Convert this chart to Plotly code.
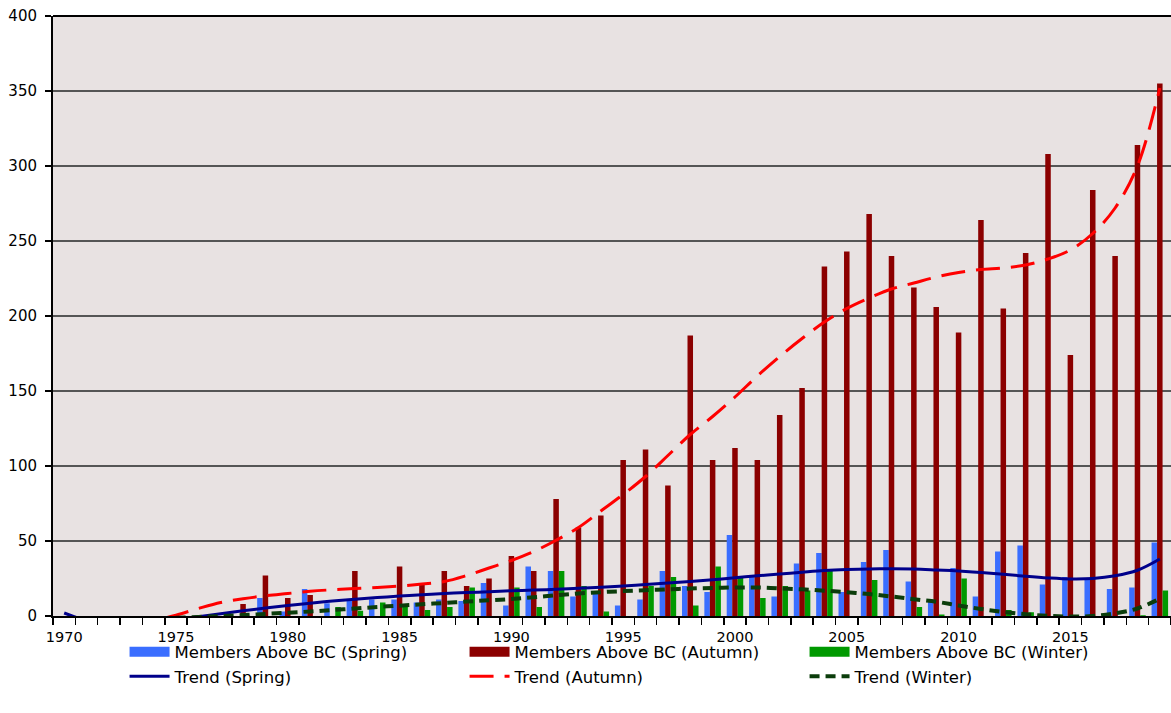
import plotly.graph_objects as go

years = [1970, 1971, 1972, 1973, 1974, 1975, 1976, 1977, 1978, 1979,
         1980, 1981, 1982, 1983, 1984, 1985, 1986, 1987, 1988, 1989,
         1990, 1991, 1992, 1993, 1994, 1995, 1996, 1997, 1998, 1999,
         2000, 2001, 2002, 2003, 2004, 2005, 2006, 2007, 2008, 2009,
         2010, 2011, 2012, 2013, 2014, 2015, 2016, 2017, 2018, 2019]

spring = [0, 0, 0, 0, 0, 0, 0, 0, 0, 12,
          3, 18, 8.5, 11, 11, 11, 9, 11, 10, 22,
          7, 33, 30, 13, 16, 7, 11, 30, 20, 16,
          54, 26, 13, 35, 42, 16, 36, 44, 23, 10,
          32, 13, 43, 47, 21, 26, 24, 18, 19, 49]

autumn = [0, 0, 0, 0, 0, 0, 0, 0, 8, 27,
          12, 14, 0, 30, 0, 33, 22, 30, 20, 25,
          40, 30, 78, 59, 67, 104, 111, 87, 187, 104,
          112, 104, 134, 152, 233, 243, 268, 240, 219, 206,
          189, 264, 205, 242, 308, 174, 284, 240, 314, 355]

winter = [0, 0, 0, 0, 0, 0, 0, 0, 0, 0,
          0, 0, 6, 3.5, 9, 6, 4, 6, 19, 0,
          19, 6, 30, 20, 3, 0, 20, 26, 7, 33,
          25.5, 12, 20, 17, 30, 0, 24, 0, 6, 1,
          25, 0, 4, 2.5, 0, 0, 0, 0, 0.5, 17]

trend_spring = [2, -3, -5, -5, -4, -2.5, -0.5, 1.5, 3.5, 5.3,
                7, 8.5, 10, 11.2, 12.3, 13.3, 14.2, 15, 15.6, 16.2,
                16.8, 17.3, 17.8, 18.5, 19.2, 20, 21, 22, 23, 24.2,
                25.5, 26.8, 28, 29.2, 30.3, 31, 31.4, 31.5, 31.3, 30.7,
                30, 29, 27.8, 26.5, 25.4, 24.7, 25, 26.8, 30.5, 38]

trend_autumn = [-20, -15, -10, -6, -3, 0.5, 5, 9, 11.5, 13.5,
                15, 16.5, 17.5, 18.3, 19, 20, 21.3, 23, 27, 32,
                37, 43, 50.5, 59, 70, 81, 93, 107, 121, 133,
                146, 160, 173, 185, 196, 205, 212, 218, 222, 226,
                229, 231, 232, 234, 238, 244, 255, 272, 300, 352]

trend_winter = [-8, -6, -4.5, -3, -2, -1.2, -0.6, -0.1, 0.6, 1.4,
                2.2, 3, 4, 5, 6, 6.9, 7.8, 8.7, 9.6, 10.5,
                11.3, 12.5, 13.8, 15, 15.9, 16.6, 17.2, 17.8, 18.3, 18.7,
                19, 19, 18.4, 17.8, 16.9, 15.9, 14.6, 13, 11.2, 9.5,
                7, 4.7, 2.7, 1.2, 0.1, -0.4, 0, 1.8, 5, 11.5]

label_years = [1970, 1975, 1980, 1985, 1990, 1995, 2000, 2005, 2010, 2015]
y_ticks = [0, 50, 100, 150, 200, 250, 300, 350, 400]

FONT = "DejaVu Sans"
C_SPRING, C_AUTUMN, C_WINTER = "#3A6EFF", "#8B0000", "#009900"

fig = go.Figure()
# bars (legend shown through wide-swatch proxies below)
fig.add_bar(x=years, y=spring, name="Members Above BC (Spring)", marker_color=C_SPRING,
            marker_line_width=0, showlegend=False)
fig.add_bar(x=years, y=autumn, name="Members Above BC (Autumn)", marker_color=C_AUTUMN,
            marker_line_width=0, showlegend=False)
fig.add_bar(x=years, y=winter, name="Members Above BC (Winter)", marker_color=C_WINTER,
            marker_line_width=0, showlegend=False)
# legend proxies: wide rectangular swatches like the original
for nm, c in [("Members Above BC (Spring)", C_SPRING),
              ("Members Above BC (Autumn)", C_AUTUMN),
              ("Members Above BC (Winter)", C_WINTER)]:
    fig.add_scatter(x=[None], y=[None], mode="lines", name=nm, line=dict(color=c, width=10))

fig.add_scatter(x=years, y=trend_spring, mode="lines", name="Trend (Spring)",
                line=dict(color="#00008B", width=3, shape="spline"))
fig.add_scatter(x=years, y=trend_autumn, mode="lines", name="Trend (Autumn)",
                line=dict(color="#FF0000", width=3, dash="24px,11px", shape="spline"))
fig.add_scatter(x=years, y=trend_winter, mode="lines", name="Trend (Winter)",
                line=dict(color="#0B3D0B", width=4, dash="10px,6px", shape="spline"))

fig.update_layout(
    width=1171, height=713,
    margin=dict(l=53, r=0, t=16, b=97, autoexpand=False),
    paper_bgcolor="white",
    plot_bgcolor="#E8E2E2",
    barmode="group",
    bargap=0.26,
    bargroupgap=0,
    font=dict(family=FONT, size=14, color="black"),
    showlegend=True,
    legend=dict(
        orientation="h",
        x=0.064, xanchor="left",
        y=-0.031, yanchor="top",
        font=dict(family=FONT, size=16.5),
        entrywidth=285,
        itemwidth=40,
        tracegroupgap=0,
        bgcolor="rgba(0,0,0,0)",
    ),
    hovermode=False,
)

fig.update_xaxes(
    range=[1969.5, 2019.5],
    tickvals=label_years,
    ticktext=[str(v) for v in label_years],
    ticks="",
    ticklabelstandoff=7,
    ticklabeloverflow="allow",
    showgrid=False,
    showline=True, linecolor="black", linewidth=2,
    tickfont=dict(family=FONT, size=14.5),
    minor=dict(ticks="outside", tick0=1969.5, dtick=1, ticklen=7, tickcolor="black", tickwidth=1.5, showgrid=False),
    zeroline=False,
    automargin=False,
)
fig.update_yaxes(
    range=[0, 400],
    tickvals=y_ticks,
    ticks="outside", ticklen=6, tickcolor="black", tickwidth=1.5,
    ticklabelstandoff=5,
    ticklabeloverflow="allow",
    showgrid=True, gridcolor="#555555", gridwidth=1.5,
    showline=True, linecolor="black", linewidth=2,
    tickfont=dict(family=FONT, size=15),
    zeroline=False,
    automargin=False,
)
fig.add_shape(type="line", xref="paper", yref="paper", x0=0, x1=1, y0=1, y1=1,
              line=dict(color="black", width=2))

fig.write_html(
    "out.html",
    config={"displayModeBar": False, "staticPlot": True},
    post_script="document.body.style.margin='0px'; document.body.style.overflow='hidden';",
)
